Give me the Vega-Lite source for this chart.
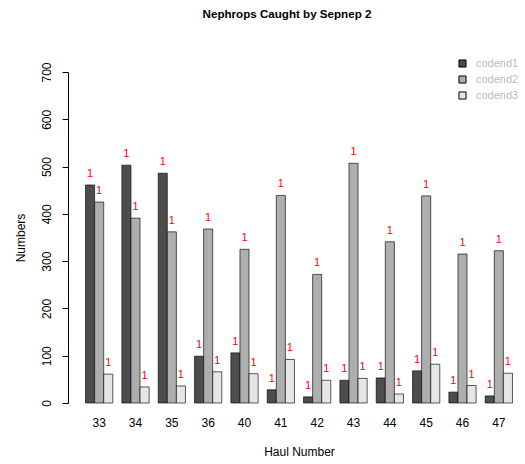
{
  "$schema": "https://vega.github.io/schema/vega-lite/v6.json",
  "autosize": "none",
  "width": 436,
  "height": 331,
  "padding": {"left": 81, "top": 72, "right": 8, "bottom": 61},
  "background": "white",
  "config": {
    "font": "Liberation Sans",
    "view": {"stroke": null}
  },
  "title": {
    "text": "Nephrops Caught by Sepnep 2",
    "fontSize": 11.6,
    "fontWeight": "bold",
    "color": "black",
    "anchor": "middle",
    "frame": "group",
    "offset": 37,
    "dx": -12
  },
  "data": {
    "values": [
      {"haul": "33", "codend": "codend1", "n": 461},
      {"haul": "33", "codend": "codend2", "n": 425},
      {"haul": "33", "codend": "codend3", "n": 61},
      {"haul": "34", "codend": "codend1", "n": 503},
      {"haul": "34", "codend": "codend2", "n": 391},
      {"haul": "34", "codend": "codend3", "n": 34},
      {"haul": "35", "codend": "codend1", "n": 486},
      {"haul": "35", "codend": "codend2", "n": 362},
      {"haul": "35", "codend": "codend3", "n": 36},
      {"haul": "36", "codend": "codend1", "n": 99},
      {"haul": "36", "codend": "codend2", "n": 368},
      {"haul": "36", "codend": "codend3", "n": 66},
      {"haul": "40", "codend": "codend1", "n": 106},
      {"haul": "40", "codend": "codend2", "n": 325},
      {"haul": "40", "codend": "codend3", "n": 62},
      {"haul": "41", "codend": "codend1", "n": 28},
      {"haul": "41", "codend": "codend2", "n": 439},
      {"haul": "41", "codend": "codend3", "n": 92},
      {"haul": "42", "codend": "codend1", "n": 13},
      {"haul": "42", "codend": "codend2", "n": 272},
      {"haul": "42", "codend": "codend3", "n": 48},
      {"haul": "43", "codend": "codend1", "n": 48},
      {"haul": "43", "codend": "codend2", "n": 507},
      {"haul": "43", "codend": "codend3", "n": 52},
      {"haul": "44", "codend": "codend1", "n": 53},
      {"haul": "44", "codend": "codend2", "n": 341},
      {"haul": "44", "codend": "codend3", "n": 19},
      {"haul": "45", "codend": "codend1", "n": 68},
      {"haul": "45", "codend": "codend2", "n": 438},
      {"haul": "45", "codend": "codend3", "n": 82},
      {"haul": "46", "codend": "codend1", "n": 23},
      {"haul": "46", "codend": "codend2", "n": 315},
      {"haul": "46", "codend": "codend3", "n": 37},
      {"haul": "47", "codend": "codend1", "n": 15},
      {"haul": "47", "codend": "codend2", "n": 322},
      {"haul": "47", "codend": "codend3", "n": 63}
    ]
  },
  "encoding": {
    "x": {
      "field": "haul",
      "type": "nominal",
      "sort": null,
      "scale": {"paddingInner": 0.25, "paddingOuter": 0.125},
      "axis": {
        "title": "Haul Number",
        "titleFontSize": 12,
        "titleFontWeight": "normal",
        "titleColor": "black",
        "titlePadding": 18,
        "labelAngle": 0,
        "labelFontSize": 12,
        "labelColor": "black",
        "labelPadding": 14,
        "domain": false,
        "ticks": false
      }
    },
    "xOffset": {"field": "codend", "type": "nominal"},
    "y": {
      "field": "n",
      "type": "quantitative",
      "scale": {"domain": [0, 700], "nice": false},
      "axis": {
        "title": "Numbers",
        "titleFontSize": 12,
        "titleFontWeight": "normal",
        "titleColor": "black",
        "titlePadding": 13,
        "values": [0, 100, 200, 300, 400, 500, 600, 700],
        "labelAngle": -90,
        "labelAlign": "center",
        "labelBaseline": "bottom",
        "labelFontSize": 12,
        "labelColor": "black",
        "labelPadding": 9,
        "tickSize": 6,
        "tickColor": "black",
        "domainColor": "black",
        "grid": false,
        "offset": 13
      }
    }
  },
  "layer": [
    {
      "mark": {"type": "bar", "stroke": "black", "strokeWidth": 0.8, "strokeOpacity": 0.8},
      "encoding": {
        "fill": {
          "field": "codend",
          "type": "nominal",
          "scale": {"domain": ["codend1", "codend2", "codend3"], "range": ["#4D4D4D", "#AEAEAE", "#E6E6E6"]},
          "legend": {
            "title": null,
            "orient": "none",
            "legendX": 376,
            "legendY": -14,
            "symbolType": "square",
            "symbolSize": 50,
            "symbolStrokeColor": "black",
            "symbolStrokeWidth": 1,
            "labelColor": "#bbbbbb",
            "labelFontSize": 11,
            "labelOffset": 8,
            "rowPadding": 3
          }
        }
      }
    },
    {
      "mark": {"type": "text", "fill": "#ff0000", "fontSize": 11, "dy": -11, "baseline": "middle"},
      "encoding": {"text": {"value": "1"}}
    }
  ]
}
